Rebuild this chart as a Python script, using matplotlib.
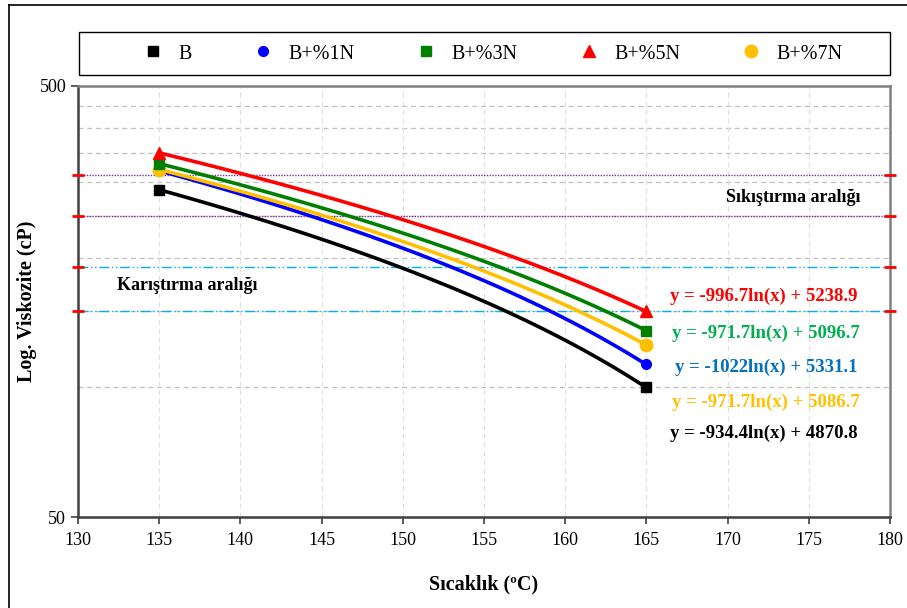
import numpy as np
import matplotlib
matplotlib.use("Agg")
import matplotlib.pyplot as plt
from matplotlib.lines import Line2D
from matplotlib.patches import Rectangle

plt.rcParams['font.family'] = ['Liberation Serif', 'DejaVu Serif']

# data
series = ["B", "B+%1N", "B+%3N", "B+%5N", "B+%7N"]
temps = [135, 165]
visc = {
    "B": [287, 100],
    "B+%1N": [318, 113],
    "B+%3N": [330, 135],
    "B+%5N": [350, 150],
    "B+%7N": [320, 125],
}
# logarithmic trendlines, as printed on the chart
slopes = [-934.4, -1022, -971.7, -996.7, -971.7]
intercepts = [4870.8, 5331.1, 5096.7, 5238.9, 5086.7]
eq_labels = ["y = -934.4ln(x) + 4870.8", "y = -1022ln(x) + 5331.1",
             "y = -971.7ln(x) + 5096.7", "y = -996.7ln(x) + 5238.9",
             "y = -971.7ln(x) + 5086.7"]

compaction_range = [250, 310]
mixing_range = [150, 190]
grid_levels = [100, 150, 200, 250, 300, 350, 400, 450]

colors = ["black", "#0000FF", "#008000", "#FF0000", "#FFC000"]
eq_colors = ["black", "#0070C0", "#00B050", "#FF0000", "#FFC000"]
markers = ["s", "o", "s", "^", "o"]
msizes = [7, 7, 7, 8, 9]
zorders = [3, 4, 6, 7, 5]
# label positions in axes fraction
eq_pos = [(0.845, 0.193), (0.847, 0.348), (0.847, 0.427), (0.845, 0.513), (0.847, 0.265)]

fig = plt.figure(figsize=(9.07, 6.08), dpi=100)
ax = fig.add_axes([78/907, 91/608, 812/907, 431/608])

ax.set_yscale('log')
ax.set_xlim(130, 180)
ax.set_ylim(50, 500)

for g in grid_levels:
    ax.axhline(g, color='#BFBFBF', lw=0.9, ls=(0, (4, 3)), zorder=0)
for xv in range(135, 180, 5):
    ax.axvline(xv, color='#E0E0E0', lw=0.9, ls=(0, (4, 3)), zorder=0)

for v in compaction_range:
    ax.axhline(v, color='#7030A0', lw=1.0, ls=(0, (1, 1)), zorder=1)
    ax.plot([130, 180], [v, v], ls='none', marker='_', color='red', ms=8, mew=2, clip_on=False, zorder=8)
for v in mixing_range:
    ax.axhline(v, color='#00B0F0', lw=1.0, ls=(0, (7, 2, 1, 2, 1, 2)), zorder=1)
    ax.plot([130, 180], [v, v], ls='none', marker='_', color='red', ms=8, mew=2, clip_on=False, zorder=8)

handles = []
for i, name in enumerate(series):
    xs = np.linspace(temps[0], temps[-1], 100)
    ax.plot(xs, slopes[i] * np.log(xs) + intercepts[i], color=colors[i], lw=2.6, zorder=zorders[i])
    ax.plot(temps, visc[name], ls='none', marker=markers[i], ms=msizes[i], color=colors[i], zorder=zorders[i])
    handles.append(Line2D([], [], ls='none', marker=markers[i], ms=msizes[i], color=colors[i], label=name))
    ax.text(eq_pos[i][0], eq_pos[i][1], eq_labels[i], transform=ax.transAxes, ha='center', va='center',
            color=eq_colors[i], fontsize=13.5, fontweight='bold')

ax.text(0.881, 0.742, "Sıkıştırma aralığı", transform=ax.transAxes, ha='center', va='center',
        fontsize=13, fontweight='bold')
ax.text(0.134, 0.538, "Karıştırma aralığı", transform=ax.transAxes, ha='center', va='center',
        fontsize=13, fontweight='bold')

ax.set_xticks(range(130, 181, 5))
ax.set_yticks([50, 500])
ax.set_yticklabels(["50", "500"])
ax.yaxis.set_minor_locator(matplotlib.ticker.NullLocator())
ax.tick_params(axis='both', labelsize=13, length=5, width=1.2, color='#404040', direction='out')
ax.tick_params(axis='x', pad=6)

for s in ['left', 'bottom']:
    ax.spines[s].set_color('#404040')
    ax.spines[s].set_linewidth(1.8)
for s in ['top', 'right']:
    ax.spines[s].set_color('#808080')
    ax.spines[s].set_linewidth(1.8)

ax.set_xlabel("Sıcaklık (ºC)", fontsize=14.5, fontweight='bold', labelpad=18)
ax.set_ylabel("Log. Viskozite (cP)", fontsize=14.5, fontweight='bold')
ax.yaxis.set_label_coords(-0.05, 0.5)

# legend box spanning the plot width
fig.add_artist(Rectangle((79/907, 533/608), 811/907, 43/608, transform=fig.transFigure,
                         fill=False, edgecolor='black', lw=1.0))
leg = fig.legend(handles=handles, loc='center', ncol=5,
                 bbox_to_anchor=(492/907, 554/608),
                 fontsize=14.5, frameon=False, handletextpad=0.65,
                 columnspacing=2.95, borderaxespad=0, handlelength=1.2)

# outer chart border
fig.add_artist(Line2D([9/907, 9/907], [0, 603/608], color='black', lw=1.2, transform=fig.transFigure))
fig.add_artist(Line2D([9/907, 1], [603/608, 603/608], color='black', lw=1.2, transform=fig.transFigure))

fig.savefig("out.png", dpi=100)
